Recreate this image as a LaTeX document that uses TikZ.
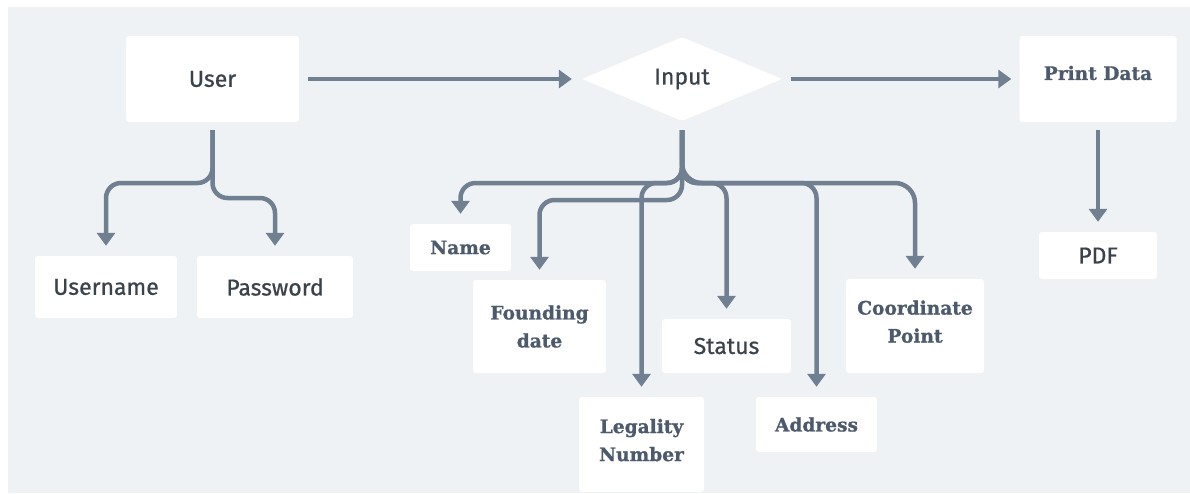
\documentclass[tikz,border=0pt]{standalone}
\usepackage{fontspec}
\setmainfont{Fira Sans}[RawFeature={embolden=0.7}]
\newfontfamily\slabfont{DejaVu Serif}[BoldFeatures={RawFeature={embolden=0.9}}]
\usetikzlibrary{shapes.geometric,arrows.meta}
\definecolor{cloud}{RGB}{238, 242, 245}
\definecolor{slate}{RGB}{112, 128, 144}
\definecolor{ink}{RGB}{58, 66, 76}
\definecolor{inkblue}{RGB}{76, 90, 108}

\begin{document}
\begin{tikzpicture}[x=1pt, y=-1pt,
        box/.style      = {fill=white, rounded corners=3pt, inner sep=0pt, text=ink,
                           font=\fontsize{23}{27}\selectfont},
        slabbox/.style  = {box, text=inkblue, align=center,
                           font=\slabfont\bfseries\fontsize{18.6}{28}\selectfont},
        slabtext/.style = {inner sep=0pt, text=inkblue, font=\slabfont\bfseries\fontsize{18.6}{28}\selectfont},
        flow/.style     = {draw=slate, line width=4.5pt, rounded corners=15pt,
                           -{Triangle[width=18pt, length=13pt]}, shorten <=9pt, shorten >=10pt}]
    \useasboundingbox (0,0) rectangle (1190,493);
    \fill[white] (0,0) rectangle (1190,493);
    \fill[cloud] (8,7) rectangle (1190,493);

    % top row
    \node[box, minimum width=173pt, minimum height=86pt]                         (user)     at ( 212.5, 79.0) {User};
    \node[box, diamond, rounded corners=2pt, minimum width=200pt, minimum height=84pt] (input) at ( 682.0, 79.0) {Input};
    \node[box, minimum width=157pt, minimum height=86pt]                         (print)    at (1098.0, 79.0) {};
    \node[slabtext]                                                              (printtxt) at (1098.0, 73.0) {Print Data};
    \node[box, minimum width=118pt, minimum height=47pt]                         (pdf)      at (1098.0,255.5) {PDF};

    % user fields
    \node[box, minimum width=142pt, minimum height=62pt]                         (username) at ( 106.0,287.0) {Username};
    \node[box, minimum width=156pt, minimum height=62pt]                         (password) at ( 275.0,287.0) {Password};

    % input fields
    \node[slabbox, minimum width=101pt, minimum height=47pt]                     (name)     at ( 460.5,247.5) {Name};
    \node[slabbox, minimum width=133pt, minimum height=93pt]                     (found)    at ( 539.5,326.5) {Founding\\date};
    \node[slabbox, minimum width=125pt, minimum height=95pt]                     (legal)    at ( 641.5,444.5) {Legality\\Number\rule[-9pt]{0pt}{0pt}};
    \node[box,     minimum width=129pt, minimum height=54pt]                     (status)   at ( 726.5,346.0) {Status};
    \node[slabbox, minimum width=121pt, minimum height=55pt]                     (address)  at ( 816.5,424.5) {Address};
    \node[slabbox, minimum width=138pt, minimum height=94pt]                     (coord)    at ( 915.0,326.0) {Coordinate\\Point\rule[-9pt]{0pt}{0pt}};

    \coordinate (ubus)  at (0,183);
    \coordinate (ubus2) at (0,198);
    \coordinate (ibus)  at (0,183);
    \coordinate (ibus2) at (0,200);

    \draw[flow] (user) -- (input);
    \draw[flow, shorten >=8pt] (input) -- (print);
    \draw[flow, shorten <=8pt] (print) -- (pdf);

    \draw[flow, shorten <=8pt] (user.south) -- (user.south |- ubus)  -| (username.north);
    \draw[flow, shorten <=8pt] (user.south) -- (user.south |- ubus2) -| (password.north);

    \draw[flow] (input.south) -- (input.south |- ibus)  -| (name.north);
    \draw[flow] (input.south) -- (input.south |- ibus2) -| (found.north);
    \draw[flow] (input.south) -- (input.south |- ibus)  -| (legal.north);
    \draw[flow] (input.south) -- (input.south |- ibus)  -| (status.north);
    \draw[flow] (input.south) -- (input.south |- ibus)  -| (address.north);
    \draw[flow, rounded corners=20pt] (input.south) -- (input.south |- ibus) -| (coord.north);
\end{tikzpicture}
\end{document}
